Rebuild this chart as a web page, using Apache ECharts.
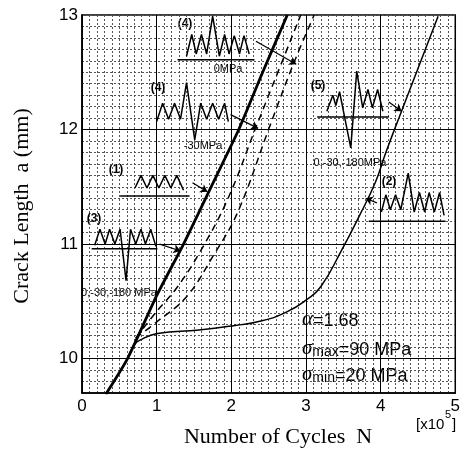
<!DOCTYPE html>
<html>
<head>
<meta charset="utf-8">
<title>Crack Length vs Number of Cycles</title>
<script src="https://cdn.jsdelivr.net/npm/echarts@6/dist/echarts.min.js"></script>
<style>
  html, body { margin: 0; padding: 0; background: #fff; }
  #main { width: 463px; height: 454px; }
</style>
</head>
<body>
<div id="main"></div>
<script>
// crack growth curves: N in 1e5 cycles, a in mm
var curve13 = [[0.32,9.69],[0.61,10.0],[1.0,10.55],[1.36,11.0],[1.73,11.5],[2.1,12.0],[2.42,12.5],[2.75,13.0]];
var curve4neg = [[0.72,10.18],[1.01,10.42],[1.26,10.61],[1.57,10.92],[1.95,11.39],[2.33,12.02],[2.93,13.0]];
var curve4zero = [[0.72,10.18],[1.0,10.32],[1.4,10.54],[1.75,10.89],[2.08,11.27],[2.51,12.02],[2.83,12.57],[3.11,13.0]];
var curve52 = [[0.61,10.0],[0.7,10.12],[0.77,10.16],[1.01,10.22],[1.57,10.25],[2.05,10.29],[2.41,10.33],[2.75,10.41],[3.0,10.51],[3.2,10.63],[3.48,10.95],[3.71,11.24],[3.93,11.54],[4.07,11.8],[4.28,12.16],[4.77,12.99]];

// load pattern sketches drawn inside the plot
var wave4zero = [[1.40,12.64],[1.47,12.83],[1.53,12.66],[1.60,12.83],[1.67,12.66],[1.75,12.99],[1.84,12.64],[1.91,12.83],[1.97,12.66],[2.04,12.82],[2.11,12.66],[2.17,12.82],[2.24,12.66]];
var base4zero = [[1.28,12.61],[2.31,12.61]];
var wave4neg = [[1.00,12.07],[1.08,12.23],[1.16,12.09],[1.24,12.23],[1.32,12.09],[1.40,12.41],[1.51,11.91],[1.59,12.23],[1.67,12.09],[1.75,12.23],[1.83,12.09],[1.91,12.23],[1.96,12.07]];
var wave1 = [[0.71,11.49],[0.79,11.60],[0.87,11.49],[0.95,11.60],[1.03,11.49],[1.11,11.60],[1.19,11.49],[1.27,11.60],[1.36,11.47]];
var base1 = [[0.51,11.42],[1.44,11.42]];
var wave3 = [[0.17,10.99],[0.24,11.13],[0.31,11.0],[0.37,11.13],[0.44,11.0],[0.51,11.13],[0.59,10.68],[0.65,11.13],[0.72,11.0],[0.79,11.13],[0.85,11.0],[0.92,11.13],[0.99,10.98]];
var base3 = [[0.13,10.96],[1.01,10.96]];
var wave5 = [[3.28,12.16],[3.36,12.30],[3.40,12.21],[3.45,12.33],[3.60,11.84],[3.68,12.51],[3.76,12.19],[3.83,12.35],[3.89,12.19],[3.96,12.35],[4.03,12.16]];
var base5 = [[3.15,12.11],[4.11,12.11]];
var wave2 = [[4.01,11.28],[4.07,11.43],[4.13,11.30],[4.20,11.43],[4.27,11.30],[4.37,11.62],[4.45,11.28],[4.52,11.45],[4.59,11.28],[4.65,11.45],[4.72,11.28],[4.79,11.45],[4.85,11.25]];
var base2 = [[3.84,11.20],[4.87,11.20]];

// pointers from sketches to curves
var pointers = [
  [[1.48,11.535],[1.68,11.456]],
  [[1.04,11.0],[1.32,10.94]],
  [[1.99,12.13],[2.36,12.01]],
  [[2.33,12.77],[2.87,12.57]],
  [[4.11,12.24],[4.28,12.16]],
  [[3.95,11.36],[3.80,11.40]]
];

var majorY = [10, 11, 12];

var chart = echarts.init(document.getElementById('main'));

function line(data, width, type, smooth) {
  return {
    type: 'line', data: data, symbol: 'none', silent: true, smooth: smooth || false,
    lineStyle: { color: '#000', width: width, type: type || 'solid' }
  };
}

var series = [
  {
    type: 'lines', coordinateSystem: 'cartesian2d', silent: true, symbol: 'none',
    lineStyle: { color: '#000', width: 1, opacity: 1 },
    data: majorY.map(function (v) { return { coords: [[0, v], [5, v]] }; })
  },
  line(curve13, 2.8, 'solid', 0.2),
  line(curve4neg, 1.5, [7, 5], 0.4),
  line(curve4zero, 1.5, [7, 5], 0.4),
  line(curve52, 1.5, 'solid', 0.5),
  line(wave4zero, 1.5), line(base4zero, 1.5),
  line(wave4neg, 1.5),
  line(wave1, 1.5), line(base1, 1.5),
  line(wave3, 1.5), line(base3, 1.5),
  line(wave5, 1.5), line(base5, 1.5),
  line(wave2, 1.5), line(base2, 1.5),
  {
    type: 'lines', coordinateSystem: 'cartesian2d', silent: true,
    symbol: ['none', 'arrow'], symbolSize: 7,
    lineStyle: { color: '#000', width: 1.2, opacity: 1 },
    data: pointers.map(function (p) { return { coords: p }; })
  }
];

var sans = 'Liberation Sans, Arial, sans-serif';
var serif = 'Liberation Serif, Times New Roman, serif';

function label(text, x, y, font, align) {
  return {
    type: 'text', x: x, y: y, silent: true,
    style: { text: text, fill: '#000', font: font || ('bold 12px ' + sans), textAlign: align || 'center', textVerticalAlign: 'middle' }
  };
}

var richBase = {
  g: { fontFamily: serif, fontStyle: 'italic', fontSize: 21, lineHeight: 24, verticalAlign: 'bottom' },
  sub: { fontFamily: sans, fontSize: 14, lineHeight: 24, verticalAlign: 'bottom' },
  t: { fontFamily: sans, fontSize: 18, lineHeight: 24, verticalAlign: 'bottom' }
};

function stressLabel(text, x, y) {
  return {
    type: 'text', x: x, y: y, silent: true,
    style: { text: text, fill: '#000', rich: richBase, textAlign: 'left', textVerticalAlign: 'middle' }
  };
}

var small = '11px ' + sans;

chart.setOption({
  animation: false,
  grid: { left: 82, top: 15, width: 376, height: 378, show: true, borderColor: '#000', borderWidth: 1.5 },
  xAxis: {
    type: 'value', min: 0, max: 5, interval: 1,
    axisLine: { onZero: false, lineStyle: { color: '#000', width: 1.5 } },
    axisTick: { show: false },
    axisLabel: { color: '#000', fontFamily: sans, fontSize: 17, margin: 5 },
    splitLine: { show: true, lineStyle: { color: '#000', width: 1 } },
    minorTick: { show: false, splitNumber: 10 },
    minorSplitLine: { show: true, lineStyle: { color: '#555', width: 1, type: [2, 2] } }
  },
  yAxis: {
    type: 'value', min: 9.7, max: 13, interval: 0.1,
    axisLine: { show: true, lineStyle: { color: '#000', width: 1.5 } },
    axisTick: { show: false },
    axisLabel: {
      color: '#000', fontFamily: sans, fontSize: 17, margin: 4,
      formatter: function (v) { var r = Math.round(v); return Math.abs(v - r) < 1e-6 ? String(r) : ''; }
    },
    splitLine: { show: true, lineStyle: { color: '#555', width: 1, type: [2, 2] } }
  },
  series: series,
  graphic: [
    label('Number of Cycles  N', 278, 437, '22px ' + serif),
    {
      type: 'text', x: 22, y: 206, rotation: Math.PI / 2, silent: true,
      style: { text: 'Crack Length  a (mm)', fill: '#000', font: '22px ' + serif, textAlign: 'center', textVerticalAlign: 'middle' }
    },
    label('[x10', 416, 425, '15px ' + sans, 'left'),
    label('5', 445, 415, '11px ' + sans, 'left'),
    label(']', 452, 425, '15px ' + sans, 'left'),
    label('(4)', 185, 24),
    label('0MPa', 228, 69, small),
    label('(4)', 158, 88),
    label('-30MPa', 203, 146, small),
    label('(1)', 116, 170),
    label('(3)', 94, 219),
    label('0,-30,-180 MPa', 119, 293, small),
    label('(5)', 318, 86),
    label('0,-30,-180MPa', 350, 163, small),
    label('(2)', 389, 182),
    stressLabel('{g|α}{t|=1.68}', 302, 318),
    stressLabel('{g|σ}{sub|max}{t|=90 MPa}', 302, 347),
    stressLabel('{g|σ}{sub|min}{t|=20 MPa}', 302, 373)
  ]
});
</script>
</body>
</html>
